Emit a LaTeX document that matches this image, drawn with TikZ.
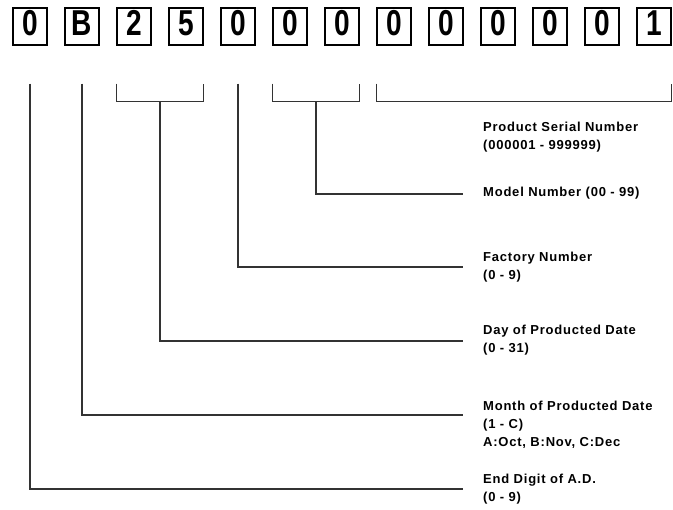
\documentclass[tikz,border=0pt]{standalone}
\usepackage{fontspec}
\setmainfont{Liberation Sans}
\newfontfamily\digfont[FakeStretch=0.78]{Liberation Sans}
\newfontfamily\lblfont[LetterSpace=6]{Liberation Sans}
\usetikzlibrary{positioning, calc}

\begin{document}
\begin{tikzpicture}[x=1pt, y=-1pt,
        digbox/.style={draw=black, line width=1.3pt, fill=white, inner sep=0pt,
            minimum width=34pt, minimum height=37pt, text height=28pt, text depth=9pt,
            font=\digfont\bfseries\fontsize{36}{38}\selectfont},
        lbl/.style={font=\lblfont\bfseries\fontsize{13}{18}\selectfont,
            align=left, inner sep=0pt, anchor=base west},
        lead/.style={draw=black!80, line width=1.2pt}
    ]
    \useasboundingbox (0,0) rectangle (673,510);

    % serial number digits
    \foreach \d [count=\i] in {0,B,2,5,0,0,0,0,0,0,0,0,1}
        \node[digbox] (d\i) at ({30+52*(\i-1)}, 26.5) {\d};

    % field descriptions (base = last line)
    \node[lbl] (serial) at (483,150) {Product Serial Number\\(000001 - 999999)};
    \node[lbl] (model) at (483,197) {Model Number (00 - 99)};
    \node[lbl] (factory) at (483,280) {Factory Number\\(0 - 9)};
    \node[lbl] (day) at (483,353) {Day of Producted Date\\(0 - 31)};
    \node[lbl] (month) at (483,447) {Month of Producted Date\\(1 - C)\\A:Oct, B:Nov, C:Dec};
    \node[lbl] (year) at (483,502) {End Digit of A.D.\\(0 - 9)};

    \coordinate (tipModel) at (463,194);
    \coordinate (tipFactory) at (463,267);
    \coordinate (tipDay) at (463,341);
    \coordinate (tipMonth) at (463,415);
    \coordinate (tipYear) at (463,489);

    % brackets
    \draw[lead] ([yshift=-38pt]d3.south west) -- ++(0,18) -| ([yshift=-38pt]d4.south east);
    \draw[lead] ([yshift=-38pt]d6.south west) -- ++(0,18) -| ([yshift=-38pt]d7.south east);
    \draw[lead] ([yshift=-38pt]d8.south west) -- ++(0,18) -| ([yshift=-38pt]d13.south east);
    \coordinate (dayMid) at ($(d3.south west)!.5!(d4.south east)$);
    \coordinate (modelMid) at ($(d6.south west)!.5!(d7.south east)$);

    % leaders
    \draw[lead] ([yshift=-38pt]d1.south) |- (tipYear);
    \draw[lead] ([yshift=-38pt]d2.south) |- (tipMonth);
    \draw[lead] ([yshift=-56pt]dayMid) |- (tipDay);
    \draw[lead] ([yshift=-38pt]d5.south) |- (tipFactory);
    \draw[lead] ([yshift=-56pt]modelMid) |- (tipModel);
\end{tikzpicture}
\end{document}
